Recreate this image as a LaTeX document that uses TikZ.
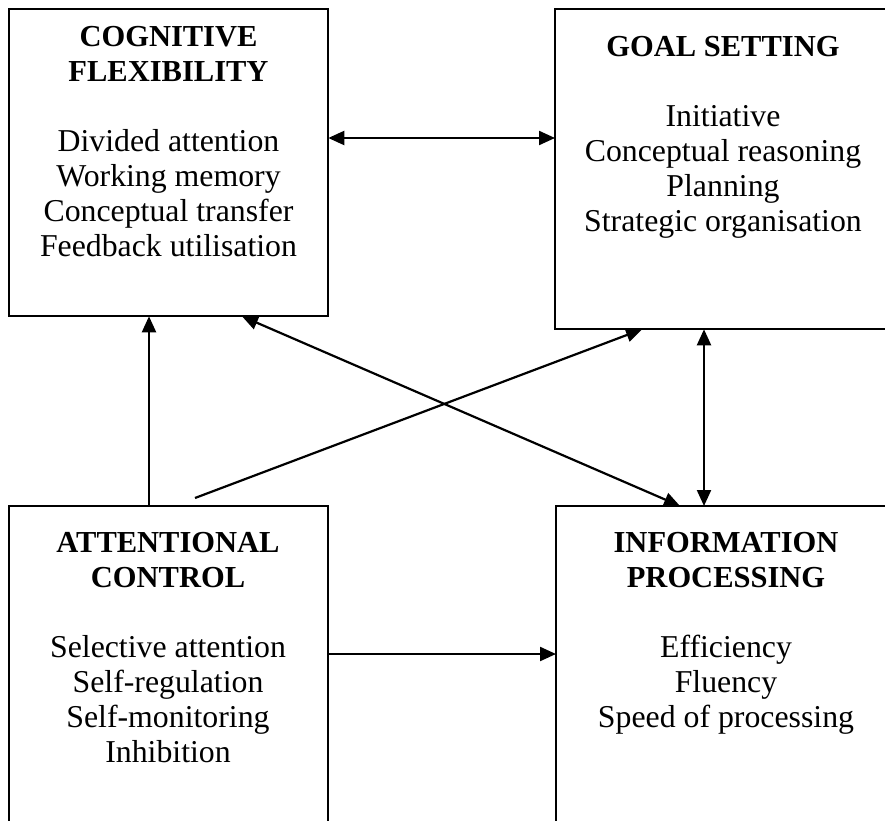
\documentclass[tikz,border=0pt]{standalone}
\usepackage{fontspec}
\setmainfont{Liberation Serif}
\usetikzlibrary{arrows.meta}
\newcommand\boxttl[1]{{\fontsize{30.5}{35}\selectfont\bfseries #1}}
\begin{document}
\begin{tikzpicture}[x=1pt,y=-1pt,
  box/.style={rectangle, inner sep=0pt, outer sep=1.15pt, anchor=north west},
  edge/.style={draw=black, line width=2.3pt, line join=miter},
  lbl/.style={align=center, anchor=north, inner sep=0pt, font=\fontsize{31.8}{35}\selectfont},
  arr/.style={line width=2.2pt, -{Triangle[length=16pt,width=14pt]}},
  darr/.style={line width=2.2pt, {Triangle[length=16pt,width=14pt]}-{Triangle[length=16pt,width=14pt]}}]
\useasboundingbox (0,0) rectangle (885,821);
\fill[white] (0,0) rectangle (885,821);
% boxes (their right-hand and bottom sides lie at the picture's edge)
\node[box, minimum width=317pt, minimum height=305pt] (cf) at (9,9) {};
\node[box, minimum width=327.5pt, minimum height=318pt] (gs) at (555,9) {};
\node[box, minimum width=317pt, minimum height=312.5pt] (ac) at (9,506) {};
\node[box, minimum width=326.5pt, minimum height=312.5pt] (ip) at (556,506) {};
\draw[edge] (cf.north west) rectangle (cf.south east);
\draw[edge] (gs.north east) -- (gs.north west) -- (gs.south west) -- (gs.south east);
\draw[edge] (ac.south west) -- (ac.north west) -- (ac.north east) -- (ac.south east);
\draw[edge] (ip.south west) -- (ip.north west) -- (ip.north east);
% labels
\node[lbl] (cft) at (168.5,26) {\boxttl{COGNITIVE}\\\boxttl{FLEXIBILITY}\\[35pt]Divided attention\\Working memory\\Conceptual transfer\\Feedback utilisation};
\node[lbl] (gst) at (723,36) {\boxttl{GOAL SETTING}\\[35pt]Initiative\\Conceptual reasoning\\Planning\\Strategic organisation};
\node[lbl] (act) at (168,532) {\boxttl{ATTENTIONAL}\\\boxttl{CONTROL}\\[35pt]Selective attention\\Self-regulation\\Self-monitoring\\Inhibition};
\node[lbl] (ipt) at (726,532) {\boxttl{INFORMATION}\\\boxttl{PROCESSING}\\[35pt]Efficiency\\Fluency\\Speed of processing};
% helper coordinates
\coordinate (ytop) at (0,138);
\coordinate (ybot) at (0,654);
\coordinate (xup) at (149,0);
\coordinate (xgs) at (642,0);
\coordinate (xcf) at (242,0);
\coordinate (xip) at (680,0);
\coordinate (xv) at (704,0);
\coordinate (start) at (195,498);
% connectors
\draw[darr] (cf.east |- ytop) -- (gs.west |- ytop);
\draw[arr] (ac.north -| xup) -- (cf.south -| xup);
\draw[arr] (start) -- (gs.south -| xgs);
\draw[darr] (cf.south -| xcf) -- (ip.north -| xip);
\draw[darr] (gs.south -| xv) -- (ip.north -| xv);
\draw[arr] (ac.east |- ybot) -- (ip.west |- ybot);
\end{tikzpicture}
\end{document}
